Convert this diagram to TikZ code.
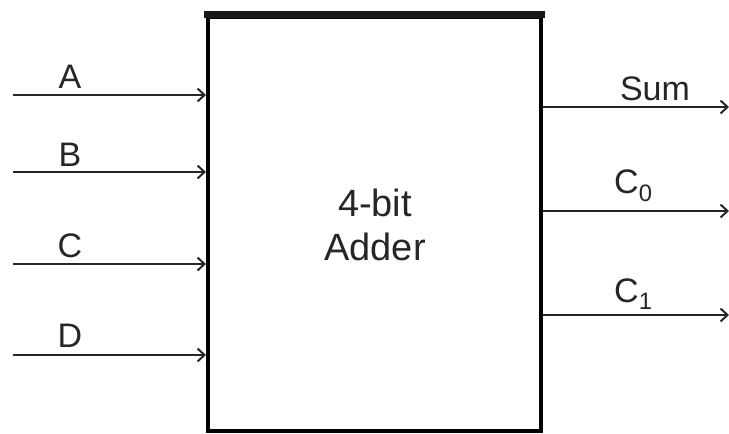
\documentclass[tikz,border=0pt]{standalone}
\usepackage{fontspec}
\setmainfont{Liberation Sans}
\usetikzlibrary{arrows.meta}
\begin{document}
\begin{tikzpicture}[x=1pt,y=-1pt,
  sig/.style={draw=black!85,line width=2.4pt,-{Straight Barb[length=7pt,width=13pt,line width=2pt]}},
  lab/.style={font=\fontsize{34}{34}\selectfont,text=black!85,inner sep=0pt,anchor=base},
  blk/.style={draw=black,line width=4.5pt,inner sep=0pt}]
\useasboundingbox (0,0) rectangle (729,434);
\node[blk,minimum width=333pt,minimum height=414pt] (add) at (374.5,224) {};
\draw[line width=7pt,black!90] ([xshift=-2.2pt]add.north west) -- ([xshift=2.2pt]add.north east);
\node[lab,align=center,font=\fontsize{38}{44}\selectfont,anchor=north] (t) at (375,189) {4-bit\\Adder};
% inputs
\coordinate (a0) at (13,95);  \coordinate (a1) at (206,95);
\coordinate (b0) at (13,172); \coordinate (b1) at (206,172);
\coordinate (c0) at (13,264); \coordinate (c1) at (206,264);
\coordinate (d0) at (13,355); \coordinate (d1) at (206,355);
\draw[sig] (a0) -- (a1);
\draw[sig] (b0) -- (b1);
\draw[sig] (c0) -- (c1);
\draw[sig] (d0) -- (d1);
\node[lab] (la) at (70,88) {A};
\node[lab] (lb) at (70,166) {B};
\node[lab] (lc) at (70,257) {C};
\node[lab] (ld) at (70,347) {D};
% outputs
\coordinate (s0) at (543,107); \coordinate (s1) at (729,107);
\coordinate (p0) at (543,211); \coordinate (p1) at (729,211);
\coordinate (q0) at (543,315); \coordinate (q1) at (729,315);
\draw[sig] (s0) -- (s1);
\draw[sig] (p0) -- (p1);
\draw[sig] (q0) -- (q1);
\node[lab] (ls) at (655,100) {Sum};
\node[lab,anchor=base west] (lp) at (614,193) {C\textsubscript{0}};
\node[lab,anchor=base west] (lq) at (614,302) {C\textsubscript{1}};
\end{tikzpicture}
\end{document}
